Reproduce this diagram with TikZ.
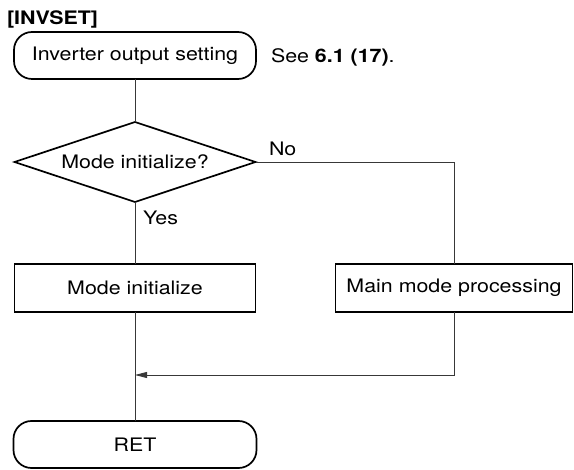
\documentclass[tikz,border=0pt]{standalone}
\usepackage{fontspec}
\setmainfont[FakeStretch=1.15]{TeX Gyre Heros}
\usetikzlibrary{shapes.geometric,arrows.meta}
\begin{document}
\begin{tikzpicture}[x=1pt,y=-1pt,
  every node/.style={font=\fontsize{18.6}{22}\selectfont, inner sep=0pt, outer sep=0pt},
  box/.style={draw, line width=1.7pt, minimum height=47pt},
  terminal/.style={box, rounded corners=18pt},
  procbox/.style={box},
  decision/.style={draw, line width=1.7pt, diamond, aspect=3, minimum width=241pt, minimum height=80pt},
  link/.style={draw=black!78, line width=0.9pt},
  note/.style={anchor=base west}
]
\useasboundingbox (0,0) rectangle (574,470);

% title
\node[note, font=\fontsize{18.6}{22}\selectfont\bfseries] (title) at (7,25) {[INVSET]};

% flow nodes
\node[terminal, minimum width=242pt] (start) at (135,55.5) {Inverter output setting};
\node[note] (see) at (271,63) {See \textbf{6.1 (17)}.};
\node[decision] (dec) at (135,162) {Mode initialize?};
\node[procbox, minimum width=241pt, minimum height=48pt] (init) at (135,288) {Mode initialize};
\node[procbox, minimum width=237pt, minimum height=48pt] (main) at (454,288) {Main mode processing};
\node[terminal, minimum width=243pt] (ret) at (135,444.5) {RET};

% branch labels
\node[note] (no) at (269,156) {No};
\node[note] (yes) at (143,225) {Yes};

% connectors
\coordinate (merge) at (135,375);
\draw[link] (start.south) -- (dec.north);
\draw[link] (dec.south) -- (init.north);
\draw[link] (init.south) -- (ret.north);
\draw[link] (dec.east) -| (main.north);
\draw[link, -{Triangle[length=12pt,width=6pt]}] (main.south) |- (merge);
\end{tikzpicture}
\end{document}
